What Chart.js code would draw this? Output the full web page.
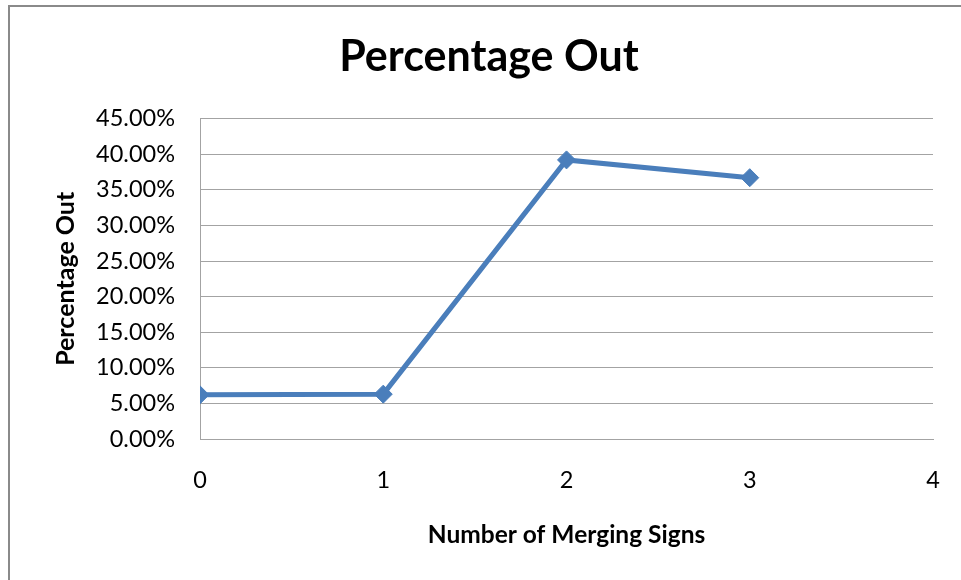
<!DOCTYPE html>
<html>
<head>
<meta charset="utf-8">
<title>Percentage Out</title>
<script src="https://cdn.jsdelivr.net/npm/chart.js@4.4.1/dist/chart.umd.min.js"></script>
<style>
  html, body { margin: 0; padding: 0; background: #ffffff; }
  #wrap { position: relative; width: 961px; height: 580px; overflow: hidden; }
  #frame {
    position: absolute; left: 8px; top: 5px; width: 2000px; height: 2000px;
    border-top: 2px solid #8a8a8a; border-left: 2px solid #8a8a8a;
    pointer-events: none;
  }
  canvas { position: absolute; left: 0; top: 0; }
</style>
</head>
<body>
<div id="wrap">
  <div id="frame"></div>
  <canvas id="chart" width="961" height="580"></canvas>
</div>
<script>
// Number of merging signs (x) and share of runs out, in percent (y)
const mergingSigns = [0, 1, 2, 3];
const percentageOut = [6.2, 6.3, 39.2, 36.7];

// Axis ranges and tick spacing
const xTicks = [0, 1, 2, 3, 4];
const yTicks = [0, 5, 10, 15, 20, 25, 30, 35, 40, 45];

const FONT = 'Lato, "Open Sans", "DejaVu Sans", sans-serif';
const LINE_BLUE = '#4a7ebb';
const GRID_GREY = '#a3a3a3';

const points = mergingSigns.map((x, i) => ({ x: x, y: percentageOut[i] }));

new Chart(document.getElementById('chart'), {
  type: 'line',
  data: {
    datasets: [{
      label: 'Percentage Out',
      data: points,
      borderColor: LINE_BLUE,
      backgroundColor: LINE_BLUE,
      borderWidth: 5,
      tension: 0,
      pointStyle: 'rectRot',
      pointRadius: 9,
      pointBorderWidth: 1,
      pointBackgroundColor: LINE_BLUE,
      pointBorderColor: LINE_BLUE
    }]
  },
  options: {
    responsive: false,
    animation: false,
    devicePixelRatio: 1,
    layout: { padding: { left: 45, right: 28, top: 0, bottom: 0 } },
    plugins: {
      legend: { display: false },
      tooltip: { enabled: false },
      title: {
        display: true,
        text: 'Percentage Out',
        color: '#000000',
        font: { family: FONT, size: 43, weight: 'bold', lineHeight: 1.2 },
        padding: { top: 31, bottom: 36 }
      }
    },
    scales: {
      x: {
        type: 'linear',
        min: xTicks[0],
        max: xTicks[xTicks.length - 1],
        afterBuildTicks: (s) => { s.ticks = xTicks.map(v => ({ value: v })); },
        afterFit: (s) => { s.height = 141; s.paddingLeft = 0; s.paddingRight = 0; },
        grid: { display: false, drawTicks: false },
        border: { display: true, color: GRID_GREY, width: 1 },
        ticks: {
          color: '#000000',
          padding: 27,
          font: { family: FONT, size: 23.5, lineHeight: 1.2 },
          callback: (v) => String(v)
        },
        title: {
          display: true,
          text: 'Number of Merging Signs',
          color: '#000000',
          font: { family: FONT, size: 24.5, weight: 'bold', lineHeight: 1.2 },
          padding: { top: 0, bottom: 30 }
        }
      },
      y: {
        min: yTicks[0],
        max: yTicks[yTicks.length - 1],
        afterBuildTicks: (s) => { s.ticks = yTicks.map(v => ({ value: v })); },
        afterFit: (s) => { s.width = 155; s.paddingTop = 0; s.paddingBottom = 0; },
        grid: { display: true, color: GRID_GREY, lineWidth: 1, drawTicks: false },
        border: { display: true, color: GRID_GREY, width: 1 },
        ticks: {
          color: '#000000',
          padding: 25,
          font: { family: FONT, size: 23.5, lineHeight: 1.2 },
          callback: (v) => Number(v).toFixed(2) + '%'
        },
        title: {
          display: true,
          text: 'Percentage Out',
          color: '#000000',
          font: { family: FONT, size: 25, weight: 'bold', lineHeight: 1.2 },
          padding: { top: 6, bottom: 0 }
        }
      }
    }
  }
});
</script>
</body>
</html>
